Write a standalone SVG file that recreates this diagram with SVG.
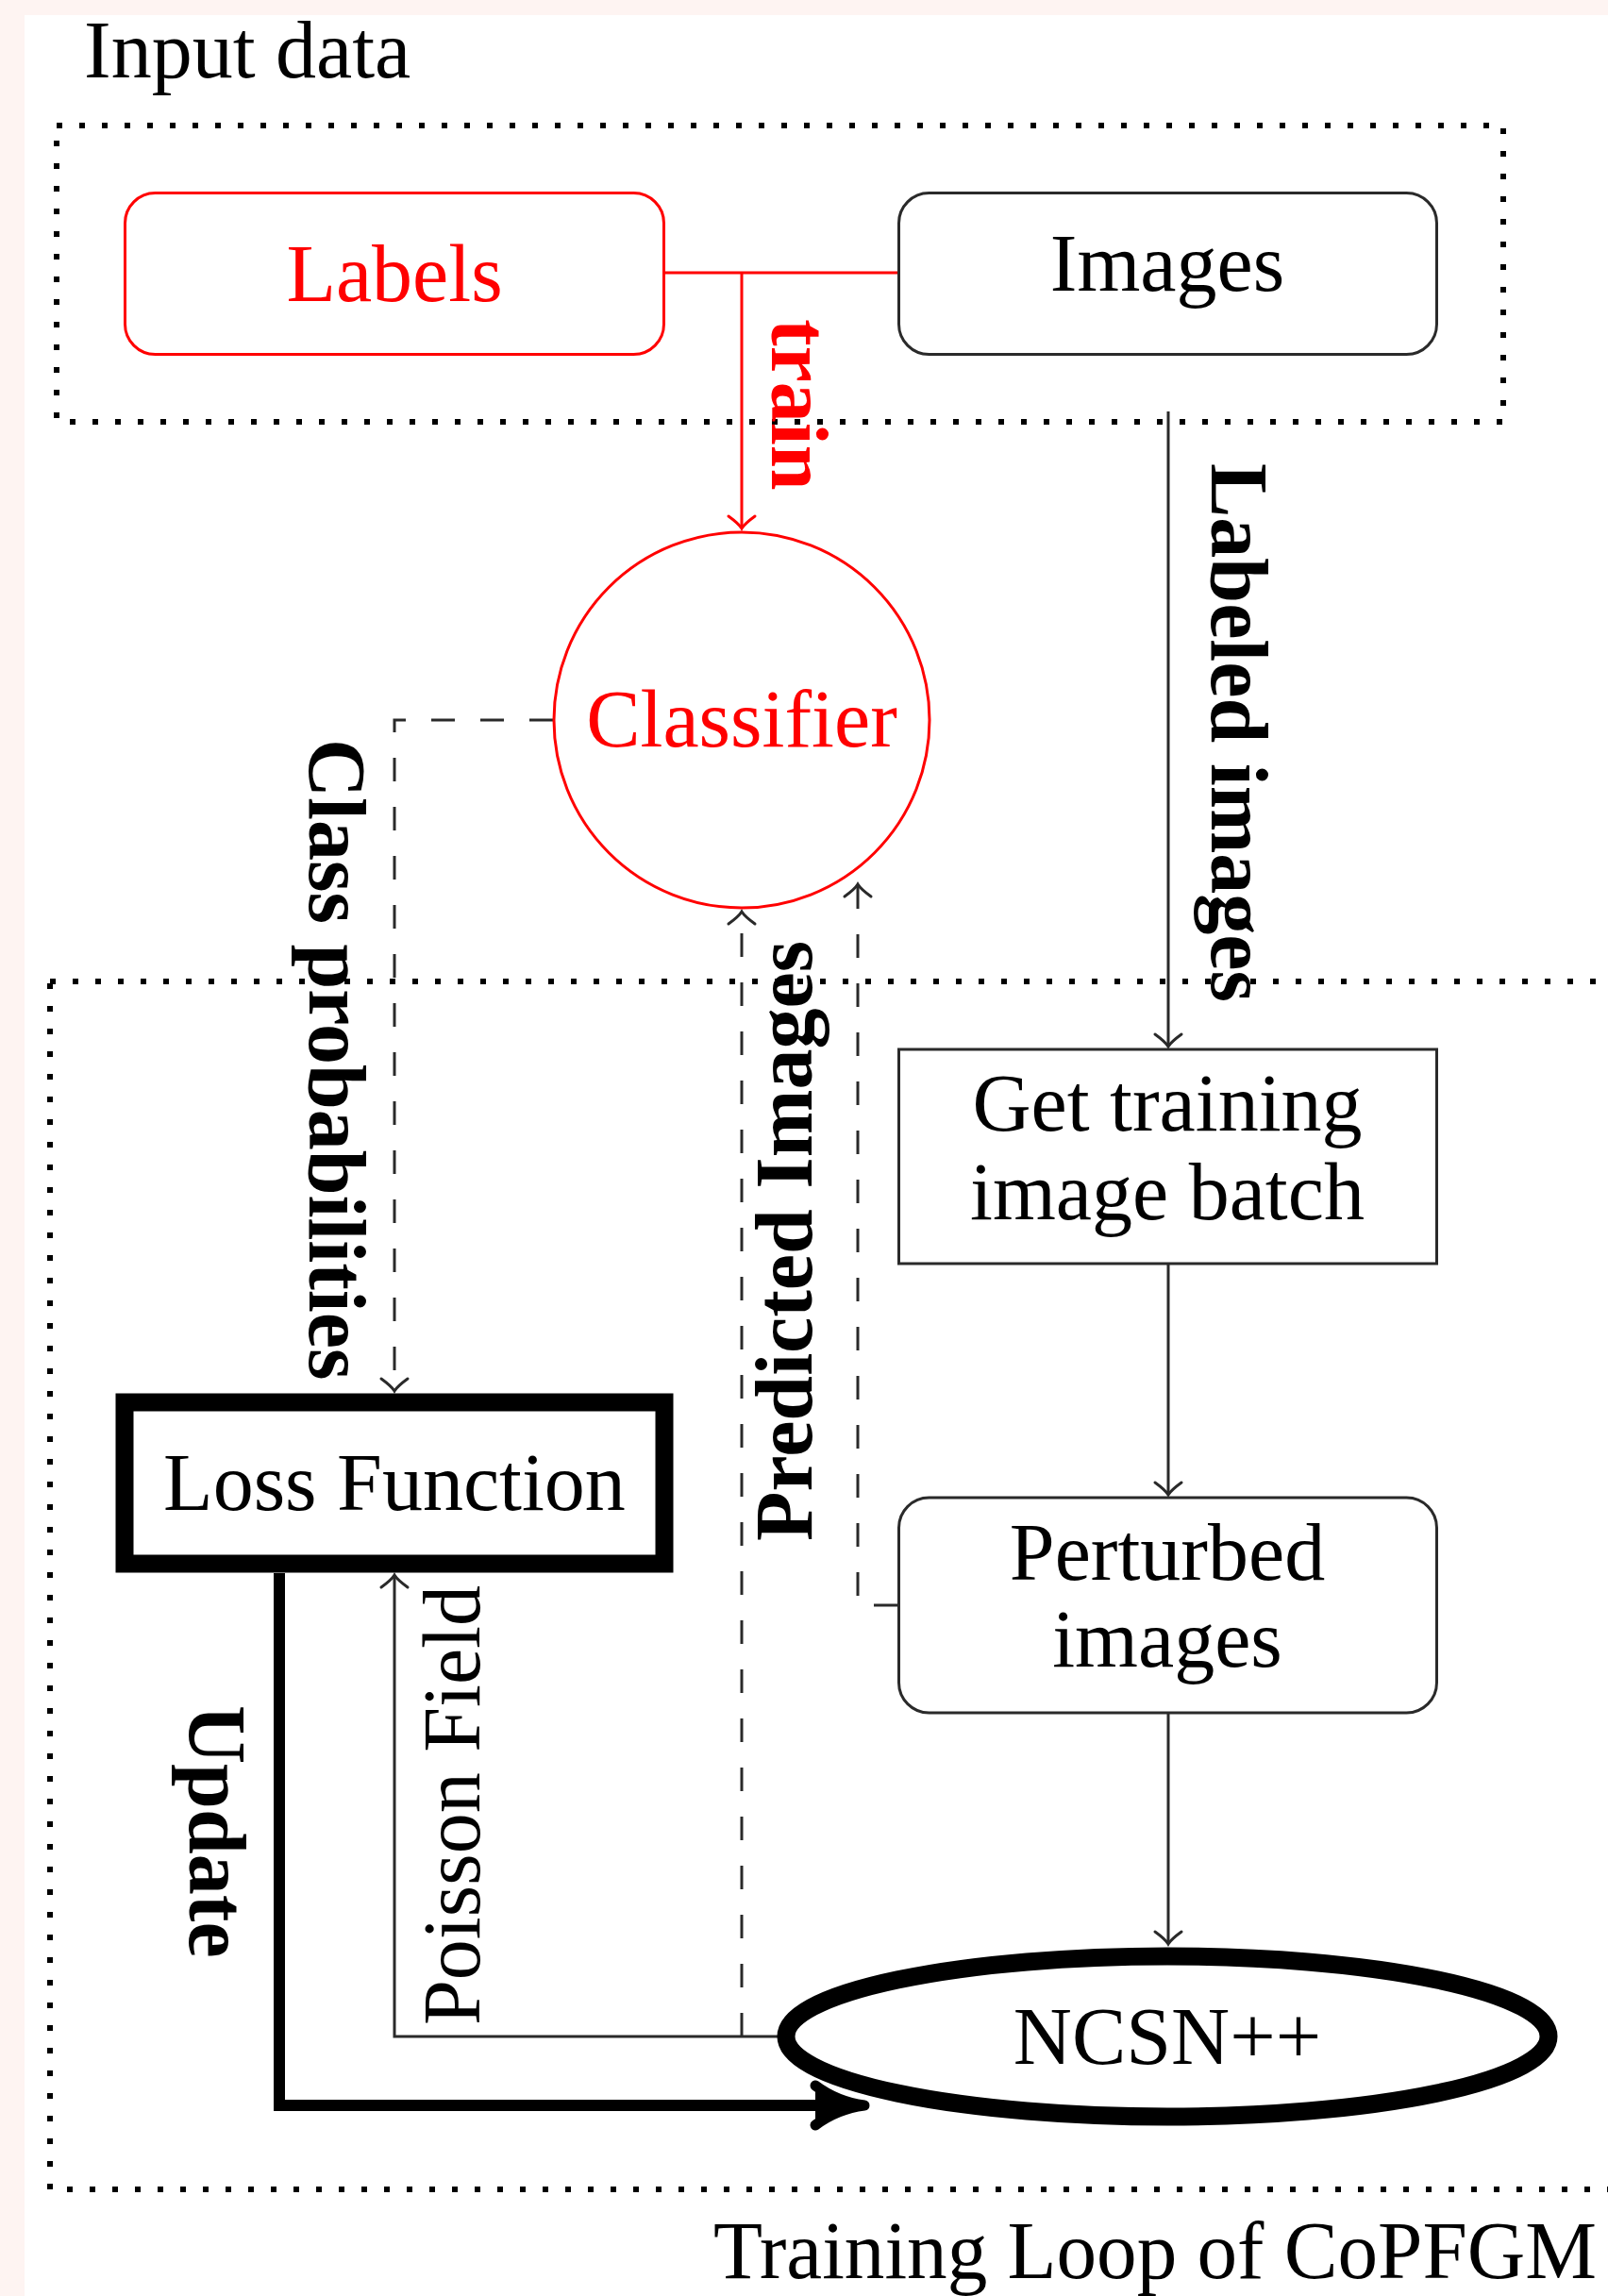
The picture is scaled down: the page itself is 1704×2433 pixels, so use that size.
<svg xmlns="http://www.w3.org/2000/svg" width="1704" height="2433" viewBox="0 0 1704 2433">
<style>
text{font-family:"Liberation Serif","Times New Roman",serif;font-size:86px;fill:#000}
.red{fill:#ff0000}
.b{font-weight:bold}
.box{fill:#fff;stroke:#2a2a2a;stroke-width:3}
.rbox{fill:#fff;stroke:#ff0000;stroke-width:3}
.dot{fill:none;stroke:#000;stroke-width:6;stroke-dasharray:6 18}
.ln{fill:none;stroke:#2a2a2a;stroke-width:3}
.dash{fill:none;stroke:#2a2a2a;stroke-width:3;stroke-dasharray:25 27}
.rln{fill:none;stroke:#ff0000;stroke-width:3}
</style>
<defs>
<marker id="ah" markerUnits="userSpaceOnUse" markerWidth="30" markerHeight="30" viewBox="-15 -15 30 30" refX="0" refY="0" orient="auto" overflow="visible">
<path d="M-13,-14 Q-5,-3 0,0 Q-5,3 -13,14" fill="none" stroke="#2a2a2a" stroke-width="3" stroke-linecap="round"/>
</marker>
<marker id="ahr" markerUnits="userSpaceOnUse" markerWidth="30" markerHeight="30" viewBox="-15 -15 30 30" refX="0" refY="0" orient="auto" overflow="visible">
<path d="M-13,-14 Q-5,-3 0,0 Q-5,3 -13,14" fill="none" stroke="#ff0000" stroke-width="3" stroke-linecap="round"/>
</marker>
</defs>
<rect x="0" y="0" width="1704" height="2433" fill="#fef4f2"/>
<rect x="26" y="16" width="1678" height="2417" fill="#fff"/>

<g id="input-data-group">
<rect class="dot" x="60" y="133" width="1533" height="314"/>
<text x="89" y="82">Input data</text>
</g>
<g id="training-loop-group">
<rect class="dot" x="53" y="1040" width="1700" height="1280"/>
<text x="756" y="2414" font-size="84" textLength="936" lengthAdjust="spacingAndGlyphs">Training Loop of CoPFGM</text>
</g>

<g id="connectors">
<path class="rln" d="M705,289 H951"/>
<path class="rln" d="M786,289 V560" marker-end="url(#ahr)"/>
<path class="ln" d="M1238,436 V1109" marker-end="url(#ah)"/>
<path class="ln" d="M1238,1340 V1584" marker-end="url(#ah)"/>
<path class="ln" d="M1238,1816 V2060" marker-end="url(#ah)"/>
<path class="dash" d="M586,763 H418 V1474" marker-end="url(#ah)"/>
<path class="dash" d="M786,2158 V966" marker-end="url(#ah)"/>
<path class="dash" d="M951,1701 H909 V937" marker-end="url(#ah)"/>
<path class="ln" d="M830,2158 H418 V1669" marker-end="url(#ah)"/>
<path d="M296,1667 V2231 H905" fill="none" stroke="#000" stroke-width="12"/>
<path d="M864,2210 C880,2222 900,2229 916,2231 C900,2233 880,2240 864,2252" fill="#000" stroke="#000" stroke-width="11" stroke-linecap="round" stroke-linejoin="round"/>
<text class="red b" transform="translate(818,338) rotate(90)">train</text>
<text class="b" transform="translate(1284,491) rotate(90)">Labeled images</text>
<text class="b" transform="translate(328,783) rotate(90)">Class probabilities</text>
<text class="b" transform="translate(860,1633) rotate(-90)">Predicted Images</text>
<text transform="translate(508,2146) rotate(-90)">Poisson Field</text>
<text class="b" transform="translate(201,1807) rotate(90)">Update</text>
</g>

<g id="labels">
<rect class="rbox" x="132.5" y="204.5" width="571" height="171" rx="32"/>
<text class="red" x="418" y="319" text-anchor="middle">Labels</text>
</g>
<g id="images">
<rect class="box" x="952.5" y="204.5" width="570" height="171" rx="32"/>
<text x="1237" y="308" text-anchor="middle">Images</text>
</g>
<g id="classifier">
<circle cx="786" cy="763" r="199" fill="#fff" stroke="#ff0000" stroke-width="3"/>
<text class="red" x="786" y="791" text-anchor="middle">Classifier</text>
</g>
<g id="get-training">
<rect class="box" x="952.5" y="1112" width="570" height="227"/>
<text x="1237" y="1198" text-anchor="middle">Get training</text>
<text x="1237" y="1292" text-anchor="middle">image batch</text>
</g>
<g id="perturbed">
<rect class="box" x="952.5" y="1587" width="570" height="228" rx="32"/>
<text x="1237" y="1674" text-anchor="middle">Perturbed</text>
<text x="1237" y="1766" text-anchor="middle">images</text>
</g>
<g id="loss">
<rect x="132" y="1486" width="572" height="171" fill="#fff" stroke="#000" stroke-width="19"/>
<text x="418" y="1600" text-anchor="middle">Loss Function</text>
</g>
<g id="ncsn">
<ellipse cx="1237" cy="2158" rx="404" ry="85" fill="#fff" stroke="#000" stroke-width="19"/>
<text x="1237" y="2187" text-anchor="middle">NCSN++</text>
</g>
</svg>
